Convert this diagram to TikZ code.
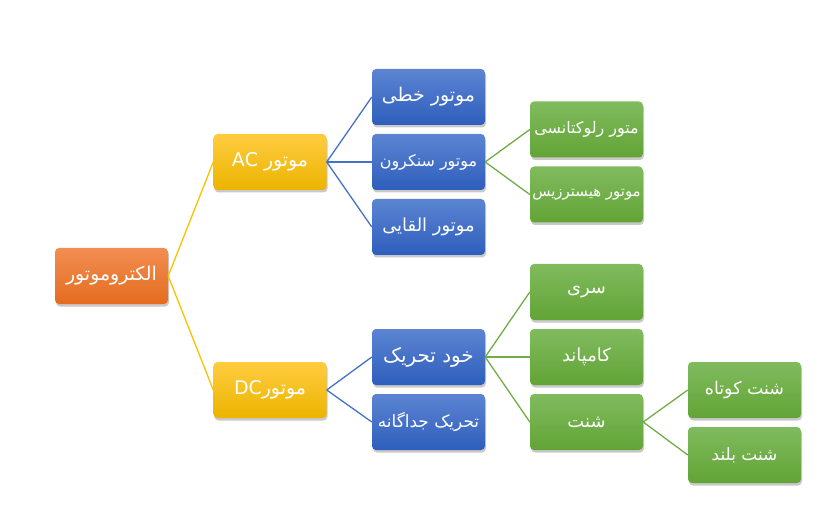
\documentclass[tikz,border=0pt]{standalone}
\usepackage{fontspec}
\newfontfamily\arabicfont[Script=Arabic]{DejaVu Sans}
\TeXXeTstate=1
\usetikzlibrary{shadows}
\definecolor{orTop}{RGB}{242,142,82}
\definecolor{orBot}{RGB}{228,108,30}
\definecolor{goTop}{RGB}{255,204,64}
\definecolor{goBot}{RGB}{236,180,0}
\definecolor{blTop}{RGB}{92,132,210}
\definecolor{blBot}{RGB}{46,94,188}
\definecolor{grTop}{RGB}{128,187,94}
\definecolor{grBot}{RGB}{98,164,54}
\definecolor{goLine}{RGB}{255,192,0}
\definecolor{blLine}{RGB}{68,114,196}
\definecolor{grLine}{RGB}{112,173,71}
\newcommand{\fs}[1]{\fontsize{#1}{#1}\selectfont}
\begin{document}
\begin{tikzpicture}[x=1bp,y=-1bp,
  box/.style={rounded corners=4bp, minimum width=113bp, minimum height=56bp,
    inner sep=0pt, text=white, font=\arabicfont\fs{18},
    drop shadow={shadow xshift=1bp, shadow yshift=-2.5bp, opacity=0.3, fill=black!70}},
  orangebox/.style={box, top color=orTop, bottom color=orBot},
  goldbox/.style={box, top color=goTop, bottom color=goBot},
  bluebox/.style={box, top color=blTop, bottom color=blBot},
  greenbox/.style={box, top color=grTop, bottom color=grBot},
  link/.style={line width=1.3bp},
]
\useasboundingbox (0,0) rectangle (840,523);
% nodes
\node[orangebox, font=\arabicfont\fs{19}] (root) at (111.5,276) {\beginR الکتروموتور\endR};
\node[goldbox, font=\arabicfont\fs{19}] (ac) at (270,162) {\beginR موتور \beginL AC\endL\endR};
\node[goldbox, font=\arabicfont\fs{19}] (dc) at (270,390) {\beginR موتور\beginL DC\endL\endR};
\node[bluebox, font=\arabicfont\fs{19}] (lin) at (428.5,97) {\beginR موتور خطی\endR};
\node[bluebox, font=\arabicfont\fs{16}] (syn) at (428.5,162) {\beginR موتور سنکرون\endR};
\node[bluebox, font=\arabicfont\fs{18}] (ind) at (428.5,227) {\beginR موتور القایی\endR};
\node[greenbox, font=\arabicfont\fs{16}] (rel) at (586.5,129.5) {\beginR متور رلوکتانسی\endR};
\node[greenbox, font=\arabicfont\fs{15}] (hys) at (586.5,194.5) {\beginR موتور هیسترزیس\endR};
\node[bluebox, font=\arabicfont\fs{20}] (self) at (428.5,357) {\beginR خود تحریک\endR};
\node[bluebox, font=\arabicfont\fs{17}] (sep) at (428.5,422) {\beginR تحریک جداگانه\endR};
\node[greenbox] (ser) at (586.5,292) {\beginR سری\endR};
\node[greenbox] (com) at (586.5,357) {\beginR کامپاند\endR};
\node[greenbox] (shu) at (586.5,422) {\beginR شنت\endR};
\node[greenbox, font=\arabicfont\fs{17.5}] (ssh) at (744.5,390) {\beginR شنت کوتاه\endR};
\node[greenbox, font=\arabicfont\fs{17}] (lsh) at (744.5,455) {\beginR شنت بلند\endR};
% links
\draw[link, goLine] (root.east) -- (ac.west);
\draw[link, goLine] (root.east) -- (dc.west);
\draw[link, blLine] (ac.east) -- (lin.west);
\draw[link, blLine] (ac.east) -- (syn.west);
\draw[link, blLine] (ac.east) -- (ind.west);
\draw[link, grLine] (syn.east) -- (rel.west);
\draw[link, grLine] (syn.east) -- (hys.west);
\draw[link, blLine] (dc.east) -- (self.west);
\draw[link, blLine] (dc.east) -- (sep.west);
\draw[link, grLine] (self.east) -- (ser.west);
\draw[link, grLine] (self.east) -- (com.west);
\draw[link, grLine] (self.east) -- (shu.west);
\draw[link, grLine] (shu.east) -- (ssh.west);
\draw[link, grLine] (shu.east) -- (lsh.west);
\end{tikzpicture}
\end{document}
